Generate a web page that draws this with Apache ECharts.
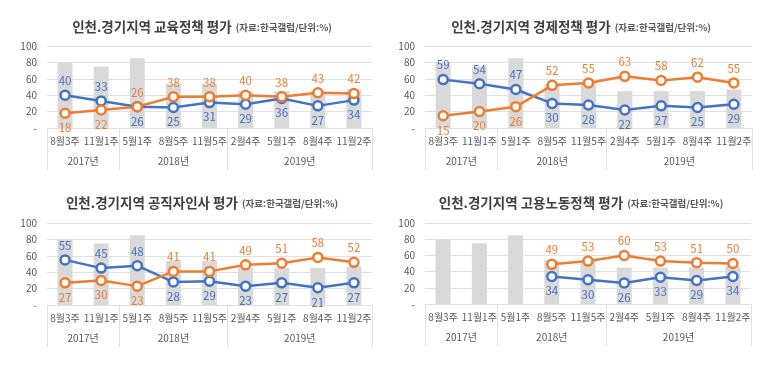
<!DOCTYPE html>
<html><head><meta charset="utf-8">
<script src="https://cdn.jsdelivr.net/npm/echarts@6/dist/echarts.min.js"></script>
<style>html,body{margin:0;padding:0;background:#fff}#c{width:773px;height:371px}</style>
</head><body><div id="c"></div>
<script>
const categories = ['8월3주','11월1주','5월1주','8월5주','11월5주','2월4주','5월1주','8월4주','11월2주'];
const years = ['2017년','2018년','2019년'];
const yearSpans = [2,3,4];
const yTicks = [0,20,40,60,80,100];
const barValues = [80,75,85,54,54,45,45,45,47];

const titles = ['인천.경기지역 교육정책 평가','인천.경기지역 경제정책 평가','인천.경기지역 공직자인사 평가','인천.경기지역 고용노동정책 평가'];
const sourceNote = '(자료:한국갤럽/단위:%)';

const eduBlue   = [40,33,26,25,31,29,36,27,34];
const eduOrange = [18,22,26,38,38,40,38,43,42];
const ecoBlue   = [59,54,47,30,28,22,27,25,29];
const ecoOrange = [15,20,26,52,55,63,58,62,55];
const perBlue   = [55,45,48,28,29,23,27,21,27];
const perOrange = [27,30,23,41,41,49,51,58,52];
const labBlue   = [null,null,null,34,30,26,33,29,34];
const labOrange = [null,null,null,49,53,60,53,51,50];

const panels = [[eduBlue,eduOrange],[ecoBlue,ecoOrange],[perBlue,perOrange],[labBlue,labOrange]];

const FONT = '"Noto Sans CJK KR", "Noto Sans", sans-serif';
const BLUE = '#4472C4', ORANGE = '#ED7D31', BAR = '#D9D9D9', GRID = '#DDE1E6', TXT = '#595959';

const grids = [
  {left:47, top:46, width:325, height:82},
  {left:425, top:46, width:327, height:82},
  {left:47, top:223, width:325, height:82},
  {left:425, top:223, width:326, height:81}
];
const titlePos = [[197,13],[576,13],[197,189],[576,189]];

const yearCenters = [], yearBounds = [0];
let acc = 0;
yearSpans.forEach(s => { yearCenters.push(acc + s/2); acc += s; yearBounds.push(acc); });

const option = {
  animation:false,
  textStyle:{fontFamily:FONT},
  title: titles.map((t,i)=>({
    text:'{a|'+t+'} {b|'+sourceNote+'}',
    left:titlePos[i][0], top:titlePos[i][1], textAlign:'center',
    textStyle:{rich:{
      a:{fontSize:13.5, fontWeight:'bold', color:'#404040', fontFamily:FONT},
      b:{fontSize:9.5, color:TXT, fontFamily:FONT}
    }}
  })),
  grid: grids,
  xAxis: [],
  yAxis: [],
  series: []
};

grids.forEach((g,i)=>{
  option.xAxis.push({
    type:'category', gridIndex:i, data:categories, position:'bottom',
    axisLine:{show:true, lineStyle:{color:GRID, width:1}},
    axisTick:{show:false},
    axisLabel:{interval:0, fontSize:10, color:TXT, margin:8, fontFamily:FONT}
  });
  option.xAxis.push({
    type:'value', gridIndex:i, min:0, max:categories.length, position:'bottom', offset:0,
    axisLine:{show:false},
    splitLine:{show:false},
    axisTick:{show:true, customValues:yearBounds, length:42, lineStyle:{color:GRID, width:1}},
    axisLabel:{customValues:yearCenters, fontSize:10, color:TXT, margin:28, fontFamily:FONT,
      formatter:(v)=>{const k=yearCenters.indexOf(v); return k>=0?years[k]:'';}}
  });
  option.yAxis.push({
    type:'value', gridIndex:i, min:yTicks[0], max:yTicks[yTicks.length-1], interval:20,
    axisLine:{show:false}, axisTick:{show:false},
    splitLine:{lineStyle:{color:GRID, width:1}},
    axisLabel:{fontSize:10, color:TXT, margin:10, fontFamily:FONT, formatter:(v)=>v===0?'-':String(v)}
  });
  option.series.push({
    type:'bar', xAxisIndex:2*i, yAxisIndex:i, data:barValues, barWidth:15,
    itemStyle:{color:BAR}, silent:true, z:1
  });
  const [b,o] = panels[i];
  const mk = (arr, other, isOrange) => arr.map((v,k)=>{
    if (v==null) return null;
    const ov = other[k];
    const above = isOrange ? (ov==null || v>=ov) : (ov==null || v>ov);
    return {value:v, label:{position: above?'top':'bottom'}};
  });
  [[b,o,false,BLUE],[o,b,true,ORANGE]].forEach(([arr,other,isO,col])=>{
    option.series.push({
      type:'line', xAxisIndex:2*i, yAxisIndex:i, data:mk(arr,other,isO),
      symbol:'circle', symbolSize:9, showAllSymbol:true,
      lineStyle:{color:col, width:2.5},
      itemStyle:{color:'#fff', borderColor:col, borderWidth:2.5},
      label:{show:true, color:col, fontSize:11.5, distance:3, fontFamily:FONT},
      z:3
    });
  });
});

const chart = echarts.init(document.getElementById('c'), null, {renderer:'canvas'});
chart.setOption(option);
</script>
</body></html>
